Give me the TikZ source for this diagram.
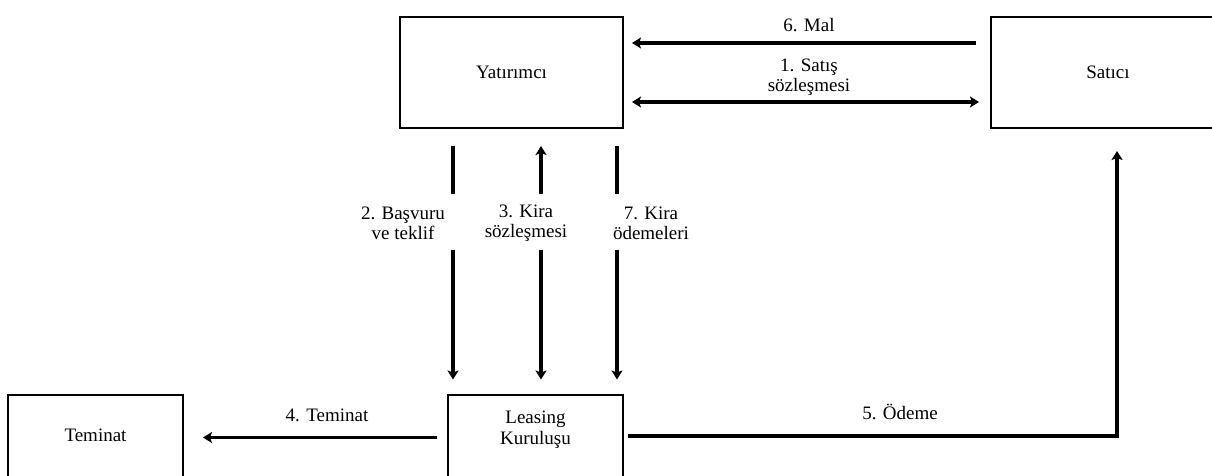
\documentclass[tikz,border=0pt]{standalone}
\usepackage{fontspec}
\setmainfont{Liberation Serif}
\usetikzlibrary{arrows.meta}
\begin{document}
\begin{tikzpicture}[x=1pt,y=-1pt,
  font=\fontsize{19}{20}\selectfont,
  box/.style={draw,line width=2pt,inner sep=0pt},
  lbl/.style={align=center,inner sep=0pt},
  link/.style={line width=3.2pt},
  arr/.style={line width=3.2pt,-{Stealth[length=9pt,width=11pt,inset=2pt]}},
  dbl/.style={line width=3.2pt,{Stealth[length=9pt,width=11pt,inset=2pt]}-{Stealth[length=9pt,width=11pt,inset=2pt]}}]
\useasboundingbox (0,0) rectangle (1212,475);
\clip (0,0) rectangle (1212,475);

% parties
\node[box,minimum width=223pt,minimum height=111pt] (yat) at (511.5,72.5) {Yatırımcı};
\node[box,minimum width=234pt,minimum height=111pt] (sat) at (1108,72.5) {Satıcı};
\node[box,minimum width=175pt,minimum height=106pt] (lea) at (535.5,447.5) {};
\node[box,minimum width=175pt,minimum height=106pt] (tem) at (95.5,447.5) {};
\node[lbl] (leaT) at (535.5,430) {Leasing\\[1pt]Kuruluşu};
\node[lbl] (temT) at (95.5,435) {Teminat};

% seller <-> investor
\draw[arr] ([shift={(-14,-29.5)}]sat.west) -- ([shift={(8,-29.5)}]yat.east);
\draw[dbl] ([shift={(8,29.5)}]yat.east) -- ([shift={(-11,29.5)}]sat.west);
\node[lbl] (l6) at (809,25) {6. Mal};
\node[lbl] (l1) at (809,77) {1. Satış\\sözleşmesi};

% investor <-> leasing company: upper stubs, lower arrows
\coordinate (a1) at ([shift={(-58.5,17)}]yat.south);
\coordinate (a2) at ([shift={(29.5,17)}]yat.south);
\coordinate (a3) at ([shift={(105.5,17)}]yat.south);
\coordinate (b1) at ([shift={(-82.5,-14)}]lea.north);
\coordinate (b2) at ([shift={(5.5,-14)}]lea.north);
\coordinate (b3) at ([shift={(81.5,-14)}]lea.north);
\draw[link] (a1) -- ++(0,48);
\draw[arr] (b1) ++(0,-130) -- (b1);
\draw[arr] (a2) ++(0,48) -- (a2);
\draw[arr] (b2) ++(0,-130) -- (b2);
\draw[link] (a3) -- ++(0,48);
\draw[arr] (b3) ++(0,-130) -- (b3);
\node[lbl] (l2) at (403,223) {2. Başvuru\\ve teklif};
\node[lbl] (l3) at (526,223) {3. Kira\\sözleşmesi};
\node[lbl] (l7) at (651,223) {7. Kira\\ödemeleri};

% leasing company -> collateral, -> seller
\draw[arr] ([shift={(-10,-10)}]lea.west) -- ([shift={(19,-10)}]tem.east);
\node[lbl] (l4) at (327,415) {4. Teminat};
\draw[arr] ([shift={(4,-11.5)}]lea.east) -| ([shift={(9,22)}]sat.south);
\node[lbl] (l5) at (900,412) {5. Ödeme};
\end{tikzpicture}
\end{document}
